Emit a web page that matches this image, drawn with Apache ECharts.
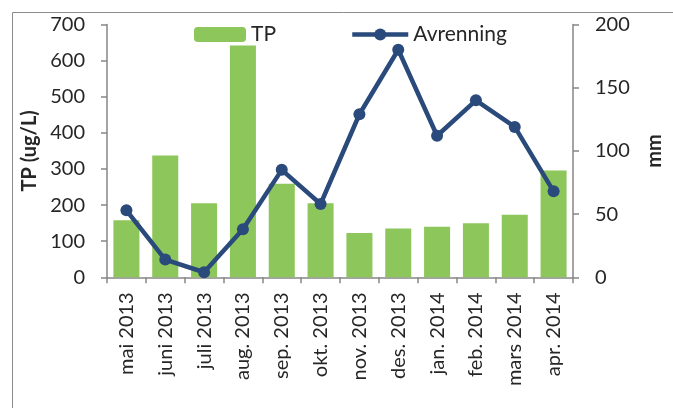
<!DOCTYPE html>
<html>
<head>
<meta charset="utf-8">
<script src="https://cdn.jsdelivr.net/npm/echarts@6/dist/echarts.min.js"></script>
<style>
  html, body { margin: 0; padding: 0; background: #fff; }
  #chart { width: 673px; height: 408px; }
</style>
</head>
<body>
<div id="chart"></div>
<script>
// måneder
var months = ['mai 2013', 'juni 2013', 'juli 2013', 'aug. 2013', 'sep. 2013', 'okt. 2013',
  'nov. 2013', 'des. 2013', 'jan. 2014', 'feb. 2014', 'mars 2014', 'apr. 2014']
// TP (ug/L), venstre akse
var tp = [158, 337, 205, 642, 259, 205, 123, 135, 140, 150, 173, 296]
// Avrenning (mm), høyre akse
var avrenning = [53, 14, 4, 38, 85, 58, 129, 180, 112, 140, 119, 68]

var font = 'Lato'
var txt = '#262626'
var axisGray = '#868686'
var blue = '#2a4a7c'

var chart = echarts.init(document.getElementById('chart'))
chart.setOption({
  animation: false,
  textStyle: { fontFamily: font },
  graphic: [{
    type: 'rect',
    left: 10, top: 10,
    shape: { width: 700, height: 450 },
    style: { fill: 'none', stroke: '#8c8c8c', lineWidth: 1 }
  }],
  legend: [{
    data: ['TP'],
    left: 189, top: 19,
    itemWidth: 52, itemHeight: 15, itemGap: 4,
    textStyle: { fontFamily: font, fontSize: 21, color: txt }
  }, {
    data: ['Avrenning'],
    left: 345, top: 19,
    itemWidth: 56, itemHeight: 15,
    lineStyle: { width: 4.5 },
    textStyle: { fontFamily: font, fontSize: 21, color: txt }
  }],
  grid: { left: 107, right: 80, top: 24.5, bottom: 130.7 },
  xAxis: {
    type: 'category',
    data: months,
    axisLine: { lineStyle: { color: axisGray, width: 1.5 } },
    axisTick: { show: true, length: 6, lineStyle: { color: axisGray, width: 1.5 } },
    axisLabel: { rotate: 90, margin: 15, fontSize: 20, color: txt, fontFamily: font, interval: 0 }
  },
  yAxis: [{
    type: 'value',
    min: 0, max: 700, interval: 100,
    name: 'TP (ug/L)',
    nameLocation: 'middle',
    nameRotate: 90,
    nameGap: 62,
    nameTextStyle: { fontFamily: font, fontSize: 20, fontWeight: 'bold', color: txt },
    axisLine: { show: true, lineStyle: { color: axisGray, width: 1.5 } },
    axisTick: { show: true, length: 6, lineStyle: { color: axisGray, width: 1.5 } },
    axisLabel: { margin: 22, fontSize: 20, color: txt, fontFamily: font },
    splitLine: { show: false }
  }, {
    type: 'value',
    min: 0, max: 200, interval: 50,
    name: 'mm',
    nameLocation: 'middle',
    nameRotate: 90,
    nameGap: 72,
    nameTextStyle: { fontFamily: font, fontSize: 20, fontWeight: 'bold', color: txt },
    axisLine: { show: true, lineStyle: { color: axisGray, width: 1.5 } },
    axisTick: { show: true, length: 6, lineStyle: { color: axisGray, width: 1.5 } },
    axisLabel: { margin: 22, fontSize: 20, color: txt, fontFamily: font },
    splitLine: { show: false }
  }],
  series: [{
    name: 'TP',
    type: 'bar',
    data: tp,
    barCategoryGap: '33%',
    itemStyle: { color: '#8dc65a' }
  }, {
    name: 'Avrenning',
    type: 'line',
    yAxisIndex: 1,
    data: avrenning,
    symbol: 'circle',
    symbolSize: 12,
    lineStyle: { color: blue, width: 4.5 },
    itemStyle: { color: blue }
  }]
})
</script>
</body>
</html>
